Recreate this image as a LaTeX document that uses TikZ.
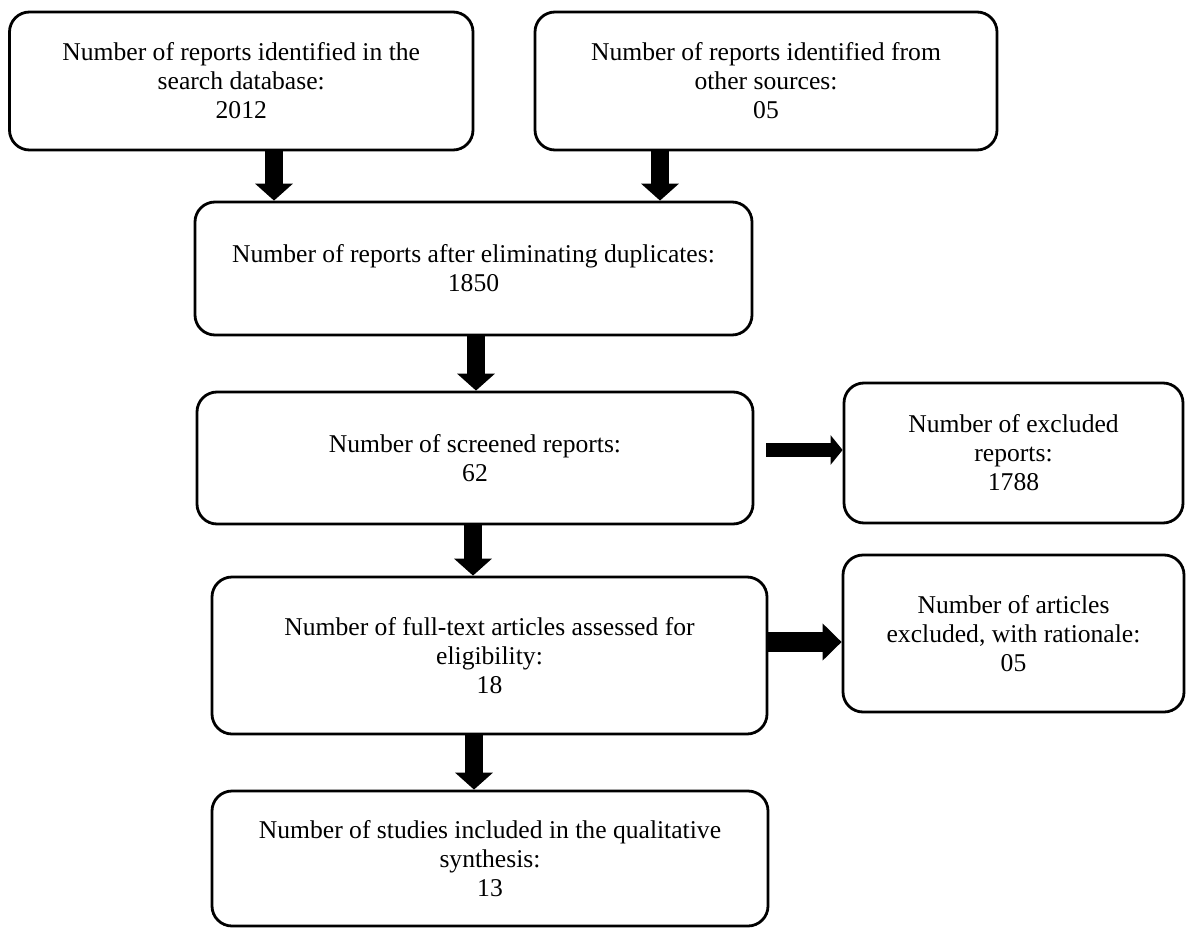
\documentclass[tikz,border=0pt]{standalone}
\usepackage{fontspec}
\setmainfont{Liberation Serif}
\usetikzlibrary{arrows.meta}
\tikzset{
  box/.style={draw=black, line width=2.8pt, rounded corners=20pt, fill=white,
    align=center, inner sep=0pt, font=\fontsize{25.6}{29}\selectfont},
  vbig/.style={line width=18pt, -{Triangle[width=37pt,length=17pt]}},
  hsmall/.style={line width=14pt, -{Triangle[width=29pt,length=12pt]}},
  hbig/.style={line width=20pt, -{Triangle[width=36pt,length=19pt]}},
}
\begin{document}
\begin{tikzpicture}[x=1pt,y=-1pt]
\useasboundingbox (0,0) rectangle (1190,928);
\node[box, minimum width=463.5pt, minimum height=138pt] (b1) at (241.25,81)
  {Number of reports identified in the\\search database:\\2012};
\node[box, minimum width=462pt, minimum height=138pt] (b2) at (766,81)
  {Number of reports identified from\\other sources:\\05};
\node[box, minimum width=557pt, minimum height=133pt] (b3) at (473.5,268.5)
  {Number of reports after eliminating duplicates:\\1850};
\node[box, minimum width=556pt, minimum height=132pt] (b4) at (475,458)
  {Number of screened reports:\\62};
\node[box, minimum width=339pt, minimum height=140pt] (b5) at (1013.5,453)
  {Number of excluded\\reports:\\1788};
\node[box, minimum width=555pt, minimum height=157pt] (b6) at (489.5,655.5)
  {Number of full-text articles assessed for\\eligibility:\\18};
\node[box, minimum width=341pt, minimum height=157pt] (b7) at (1013.5,633.5)
  {Number of articles\\excluded, with rationale:\\05};
\node[box, minimum width=556pt, minimum height=135pt] (b8) at (490,858.5)
  {Number of studies included in the qualitative\\synthesis:\\13};

\coordinate (xa1) at (274,0);
\coordinate (xa2) at (660,0);
\coordinate (xa3) at (476,0);
\coordinate (xa4) at (473,0);
\coordinate (xa5) at (474,0);
\coordinate (a6s) at (766,450);
\coordinate (ya7) at (0,642);

\draw[vbig] (xa1 |- b1.south) -- (xa1 |- b3.north);
\draw[vbig] (xa2 |- b2.south) -- (xa2 |- b3.north);
\draw[vbig] (xa3 |- b3.south) -- (xa3 |- b4.north);
\draw[vbig] (xa4 |- b4.south) -- (xa4 |- b6.north);
\draw[vbig] (xa5 |- b6.south) -- (xa5 |- b8.north);
\draw[hsmall] (a6s) -- (a6s -| b5.west);
\draw[hbig] (b6.east |- ya7) -- (b7.west |- ya7);
\end{tikzpicture}
\end{document}
